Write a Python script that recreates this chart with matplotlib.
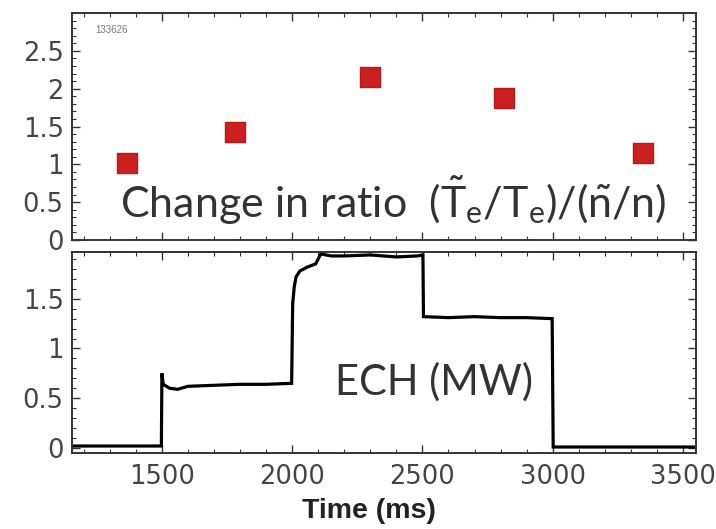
import matplotlib
matplotlib.use("Agg")
import matplotlib.pyplot as plt
from matplotlib.ticker import MultipleLocator

plt.rcParams['mathtext.fontset'] = 'custom'
plt.rcParams['mathtext.rm'] = 'Lato'
plt.rcParams['mathtext.it'] = 'Lato'

# ---- data ----
ratio_time = [1365, 1780, 2300, 2815, 3345]
ratio_value = [1.02, 1.43, 2.15, 1.88, 1.15]

ech_time = [1155, 1300, 1498, 1500, 1505, 1530, 1560, 1600, 1700, 1800, 1900, 1998,
            2002, 2008, 2015, 2030, 2060, 2090, 2110, 2150, 2200, 2300, 2400, 2480, 2502,
            2504, 2600, 2700, 2800, 2900, 2998, 3002, 3200, 3400, 3540]
ech_value = [0.02, 0.02, 0.02, 0.75, 0.64, 0.60, 0.59, 0.62, 0.63, 0.64, 0.64, 0.65,
             1.45, 1.62, 1.72, 1.78, 1.82, 1.85, 1.95, 1.93, 1.93, 1.94, 1.92, 1.93, 1.94,
             1.32, 1.31, 1.32, 1.31, 1.31, 1.30, 0.01, 0.01, 0.01, 0.01]

x_ticks = [1500, 2000, 2500, 3000, 3500]
top_yticks = [0, 0.5, 1, 1.5, 2, 2.5]
bot_yticks = [0, 0.5, 1, 1.5]

fig = plt.figure(figsize=(7.16, 5.29), dpi=100)
ax1 = fig.add_axes([0.1006, 0.5463, 0.8714, 0.4291])
ax2 = fig.add_axes([0.1006, 0.1437, 0.8714, 0.3800])

tick_font = dict(family='DejaVu Sans', size=18.5, color='#444444')

for ax in (ax1, ax2):
    ax.set_xlim(1155, 3550)
    ax.xaxis.set_major_locator(MultipleLocator(500))
    ax.xaxis.set_minor_locator(MultipleLocator(100))
    ax.yaxis.set_minor_locator(MultipleLocator(0.1))
    ax.tick_params(which='both', direction='in', top=True, right=True, color='#333333')
    ax.tick_params(which='major', length=6, width=1.0)
    ax.tick_params(which='minor', length=3, width=0.8)
    ax.tick_params(axis='y', pad=6)
    for s in ax.spines.values():
        s.set_color('#333333')
        s.set_linewidth(1.4)

# top panel
ax1.scatter(ratio_time, ratio_value, marker='s', s=210, color='#cc2020', edgecolors='#b81a1a',
            linewidths=1, zorder=3)
ax1.set_ylim(0, 3.0)
ax1.set_yticks(top_yticks)
ax1.set_yticklabels(['0', '0.5', '1', '1.5', '2', '2.5'], **tick_font)
ax1.set_xticks(x_ticks)
ax1.set_xticklabels([])
ax1.text(0.037, 0.925, '133626', transform=ax1.transAxes, fontsize=7, color='#777777',
         family='Liberation Sans', va='center', ha='left')
ax1.text(0.515, 0.097,
         r'Change in ratio  $(\tilde{\mathrm{T}}_{e}/\mathrm{T}_{e})/(\tilde{\mathrm{n}}/\mathrm{n})$',
         transform=ax1.transAxes, fontsize=31, color='#333333', family='Lato',
         ha='center', va='baseline')

# bottom panel
ax2.plot(ech_time, ech_value, color='black', lw=2.3, solid_joinstyle='miter')
ax2.set_ylim(-0.05, 1.97)
ax2.set_yticks(bot_yticks)
ax2.set_yticklabels(['0', '0.5', '1', '1.5'], **tick_font)
ax2.set_xticks(x_ticks)
ax2.set_xticklabels([str(t) for t in x_ticks], **tick_font)
ax2.tick_params(axis='x', pad=8)
ax2.text(0.58, 0.353, 'ECH (MW)', transform=ax2.transAxes, fontsize=30, color='#333333',
         family='Lato', ha='center', va='center')
ax2.set_xlabel('Time (ms)', fontsize=20.5, fontweight='bold', family='Liberation Sans',
               color='#222222')
ax2.xaxis.set_label_coords(0.476, -0.225)

fig.savefig('out.png', dpi=100)
